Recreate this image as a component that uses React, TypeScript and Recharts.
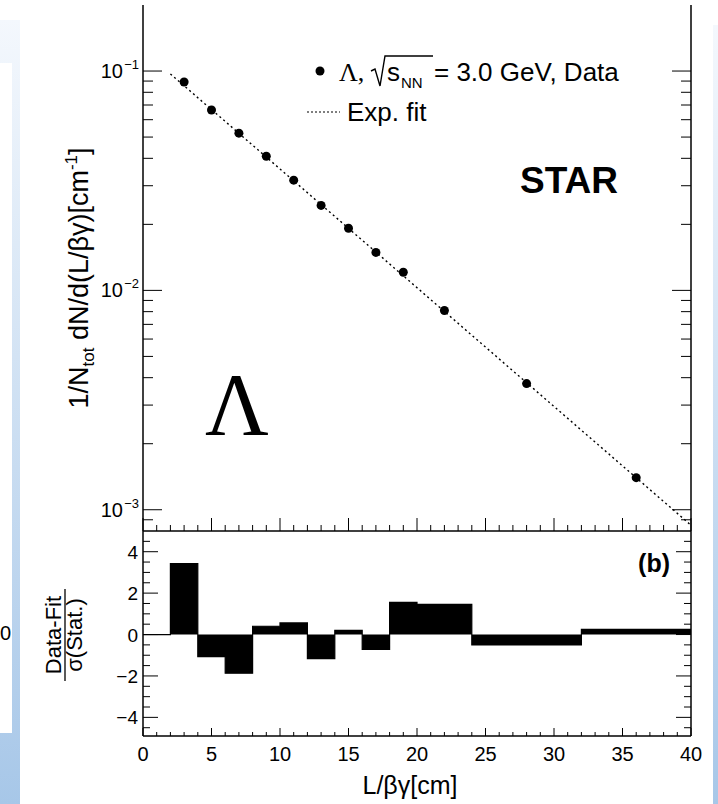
import React from "react";
import { ComposedChart, Scatter, Line, Area, XAxis, YAxis } from "recharts";

// Lambda decay length distribution (upper panel)
const lengthCenters = [3, 5, 7, 9, 11, 13, 15, 17, 19, 22, 28, 36];
const yieldValues = [
  0.0891, 0.0664, 0.0521, 0.0409, 0.0318, 0.0244, 0.0192, 0.0149, 0.0121,
  0.0081, 0.00376, 0.0014,
];

// exponential fit, straight on a log axis: two end points
const fitX = [2, 40];
const fitY = [0.097, 0.00085];

// (Data-Fit)/sigma per bin (lower panel)
const binEdges = [0, 2, 4, 6, 8, 10, 12, 14, 16, 18, 20, 24, 32, 40];
const pulls = [0, 3.42, -1.07, -1.87, 0.4, 0.56, -1.16, 0.2, -0.72, 1.55, 1.46, -0.5, 0.25];

const xTicks = Array.from({ length: 41 }, (_, i) => i);
const xLabels = [0, 5, 10, 15, 20, 25, 30, 35, 40];
const logMajor = [0.001, 0.01, 0.1];
const logTicks = [
  0.0009, 0.001, 0.002, 0.003, 0.004, 0.005, 0.006, 0.007, 0.008, 0.009,
  0.01, 0.02, 0.03, 0.04, 0.05, 0.06, 0.07, 0.08, 0.09, 0.1,
];
const pullTicks = Array.from({ length: 19 }, (_, i) => -4.5 + i * 0.5);
const pullLabels = [-4, -2, 0, 2, 4];

const points = lengthCenters.map((x, i) => ({ x, y: yieldValues[i] }));
const fitData = fitX.map((x, i) => ({ x, y: fitY[i] }));
const stepData = binEdges.map((x, i) => ({ x, y: pulls[Math.min(i, pulls.length - 1)] }));

const SANS = "'Liberation Sans', Arial, Helvetica, sans-serif";
const SERIF = "'Liberation Serif', 'Times New Roman', serif";
const minus = (v: number) => (v < 0 ? "\u2212" + Math.abs(v) : String(v));
const isMajorLog = (v: number) => logMajor.some((m) => Math.abs(m - v) / m < 1e-6);

const LogTick = (props: any) => {
  const { x, y, payload, side } = props;
  const v = payload.value;
  const major = isMajorLog(v);
  const len = major ? 19 : 10;
  const dir = side === "left" ? 1 : -1;
  return (
    <g>
      <line x1={x} x2={x + dir * len} y1={y} y2={y} stroke="#000" strokeWidth={1} />
      {major && side === "left" && (
        <text x={x - 20} y={y + 7} textAnchor="end" fontSize={20} fontFamily={SANS} fill="#000">
          10
        </text>
      )}
      {major && side === "left" && (
        <text x={x - 4} y={y - 2} textAnchor="end" fontSize={13} fontFamily={SANS} fill="#000">
          {"\u2212" + Math.abs(Math.round(Math.log10(v)))}
        </text>
      )}
    </g>
  );
};

const PullTick = (props: any) => {
  const { x, y, payload, side } = props;
  const v = payload.value;
  const major = pullLabels.includes(v);
  const len = major ? 15 : 7;
  const dir = side === "left" ? 1 : -1;
  return (
    <g>
      <line x1={x} x2={x + dir * len} y1={y} y2={y} stroke="#000" strokeWidth={1} />
      {major && side === "left" && (
        <text x={x - 5} y={y + 7} textAnchor="end" fontSize={19} fontFamily={SANS} fill="#000">
          {minus(v)}
        </text>
      )}
    </g>
  );
};

const XTick = (props: any) => {
  const { x, y, payload, labels, big, small } = props;
  const v = payload.value;
  const major = xLabels.includes(v);
  const len = major ? big : small;
  return (
    <g>
      <line x1={x} x2={x} y1={y} y2={y - len} stroke="#000" strokeWidth={1} />
      {major && labels && (
        <text x={x} y={y + 25} textAnchor="middle" fontSize={20} fontFamily={SANS} fill="#000">
          {v}
        </text>
      )}
    </g>
  );
};

const axisLine = { stroke: "#000", strokeWidth: 1.5 };

function Decor() {
  return (
    <>
      <div
        style={{
          position: "absolute",
          left: 0,
          top: 20,
          width: 20,
          height: 784,
          background: "linear-gradient(#f4f8fd, #a7c7e8)",
        }}
      />
      <div style={{ position: "absolute", left: 0, top: 63, width: 12, height: 670, background: "#fff" }} />
      <div
        style={{
          position: "absolute",
          left: 0,
          top: 622,
          fontSize: 20,
          fontFamily: SANS,
          lineHeight: "22px",
        }}
      >
        0
      </div>
      <div
        style={{
          position: "absolute",
          left: 713,
          top: 25,
          width: 5,
          height: 779,
          background: "linear-gradient(#f4f8fd, #a7c7e8)",
        }}
      />
    </>
  );
}

function Overlay() {
  return (
    <svg width={718} height={804} style={{ position: "absolute", left: 0, top: 0, pointerEvents: "none" }}>
      {/* legend */}
      <circle cx={320} cy={71} r={4.5} fill="#000" />
      <text x={339} y={81} fontSize={26} fontFamily={SERIF} fill="#000">
        Λ,
      </text>
      <path d="M371,71 L375,69 L380,86 L385,56 L433,56" stroke="#000" strokeWidth={1.4} fill="none" />
      <text x={387} y={81} fontSize={26} fontFamily={SANS} fill="#000">
        s
      </text>
      <text x={401} y={88} fontSize={15} fontFamily={SANS} fill="#000">
        NN
      </text>
      <text x={434} y={81} fontSize={26} fontFamily={SANS} fill="#000">
        = 3.0 GeV, Data
      </text>
      <line x1={307} x2={340} y1={112} y2={112} stroke="#000" strokeWidth={1.2} strokeDasharray="2 2" />
      <text x={347} y={121} fontSize={26} fontFamily={SANS} fill="#000">
        Exp. fit
      </text>
      <text x={520} y={193} fontSize={37} fontWeight="bold" fontFamily={SANS} fill="#000">
        STAR
      </text>
      <text x={205} y={434} fontSize={88} fontFamily={SERIF} fill="#000">
        Λ
      </text>
      <text x={670} y={572} textAnchor="end" fontSize={25} fontWeight="bold" fontFamily={SANS} fill="#000">
        (b)
      </text>
      {/* axis titles */}
      <text x={410} y={794} textAnchor="middle" fontSize={25} fontFamily={SANS} fill="#000">
        L/βγ[cm]
      </text>
      <g transform="translate(88,278) rotate(-90)">
        <text x={0} y={0} textAnchor="middle" fontSize={27} fontFamily={SANS} fill="#000">
          1/N<tspan fontSize={17} dy={6}>tot</tspan>
          <tspan dy={-6}> dN/d(L/βγ)[cm</tspan>
          <tspan fontSize={17} dy={-11}>-1</tspan>
          <tspan dy={11}>]</tspan>
        </text>
      </g>
      <g transform="translate(70,635) rotate(-90)">
        <text x={0} y={-9} textAnchor="middle" fontSize={22} fontFamily={SANS} fill="#000">
          Data-Fit
        </text>
        <line x1={-46} x2={46} y1={-5} y2={-5} stroke="#000" strokeWidth={1.3} />
        <text x={0} y={12} textAnchor="middle" fontSize={22} fontFamily={SANS} fill="#000">
          σ(Stat.)
        </text>
      </g>
    </svg>
  );
}

export default function App() {
  return (
    <div style={{ position: "absolute", left: 0, top: 0, width: 718, height: 804, background: "#fff", overflow: "hidden" }}>
      <Decor />
      <div style={{ position: "absolute", left: 0, top: 0 }}>
        <ComposedChart width={718} height={540} margin={{ top: 5, right: 0, bottom: 0, left: 0 }}>
          <XAxis
            dataKey="x"
            type="number"
            domain={[0, 40]}
            ticks={xTicks}
            interval={0}
            height={9}
            tickSize={0}
            tickMargin={0}
            axisLine={axisLine}
            tickLine={false}
            tick={<XTick labels={false} big={13} small={6} />}
          />
          <XAxis xAxisId="top" orientation="top" type="number" domain={[0, 40]} height={0} tick={false} tickLine={false} axisLine={axisLine} />
          <YAxis
            yAxisId="left"
            scale="log"
            type="number"
            domain={[0.0008, 0.2]}
            allowDataOverflow
            ticks={logTicks}
            interval={0}
            width={143}
            tickSize={0}
            tickMargin={0}
            axisLine={axisLine}
            tickLine={false}
            tick={<LogTick side="left" />}
          />
          <YAxis
            yAxisId="right"
            orientation="right"
            scale="log"
            type="number"
            domain={[0.0008, 0.2]}
            allowDataOverflow
            ticks={logTicks}
            interval={0}
            width={27}
            tickSize={0}
            tickMargin={0}
            axisLine={axisLine}
            tickLine={false}
            tick={<LogTick side="right" />}
          />
          <Line
            yAxisId="left"
            data={fitData}
            dataKey="y"
            type="linear"
            stroke="#000"
            strokeWidth={1.4}
            strokeDasharray="2 3"
            dot={false}
            activeDot={false}
            isAnimationActive={false}
          />
          <Scatter
            yAxisId="left"
            data={points}
            dataKey="y"
            fill="#000"
            shape={(p: any) => <circle cx={p.cx} cy={p.cy} r={4.5} fill="#000" />}
            isAnimationActive={false}
          />
        </ComposedChart>
      </div>
      <div style={{ position: "absolute", left: 0, top: 500 }}>
        <ComposedChart width={718} height={304} margin={{ top: 31, right: 0, bottom: 0, left: 0 }}>
          <XAxis
            dataKey="x"
            type="number"
            domain={[0, 40]}
            ticks={xTicks}
            interval={0}
            height={68}
            tickSize={0}
            tickMargin={0}
            axisLine={axisLine}
            tickLine={false}
            tick={<XTick labels big={8} small={4} />}
          />
          <XAxis xAxisId="top" orientation="top" type="number" domain={[0, 40]} height={0} tick={false} tickLine={false} axisLine={axisLine} />
          <YAxis
            yAxisId="left"
            type="number"
            domain={[-4.9, 5]}
            allowDataOverflow
            ticks={pullTicks}
            interval={0}
            width={143}
            tickSize={0}
            tickMargin={0}
            axisLine={axisLine}
            tickLine={false}
            tick={<PullTick side="left" />}
          />
          <YAxis
            yAxisId="right"
            orientation="right"
            type="number"
            domain={[-4.9, 5]}
            allowDataOverflow
            ticks={pullTicks}
            interval={0}
            width={27}
            tickSize={0}
            tickMargin={0}
            axisLine={axisLine}
            tickLine={false}
            tick={<PullTick side="right" />}
          />
          <Area
            yAxisId="left"
            data={stepData}
            dataKey="y"
            type="stepAfter"
            baseValue={0}
            fill="#000"
            fillOpacity={1}
            stroke="#000"
            strokeWidth={1.2}
            dot={false}
            activeDot={false}
            isAnimationActive={false}
          />
        </ComposedChart>
      </div>
      <Overlay />
    </div>
  );
}
